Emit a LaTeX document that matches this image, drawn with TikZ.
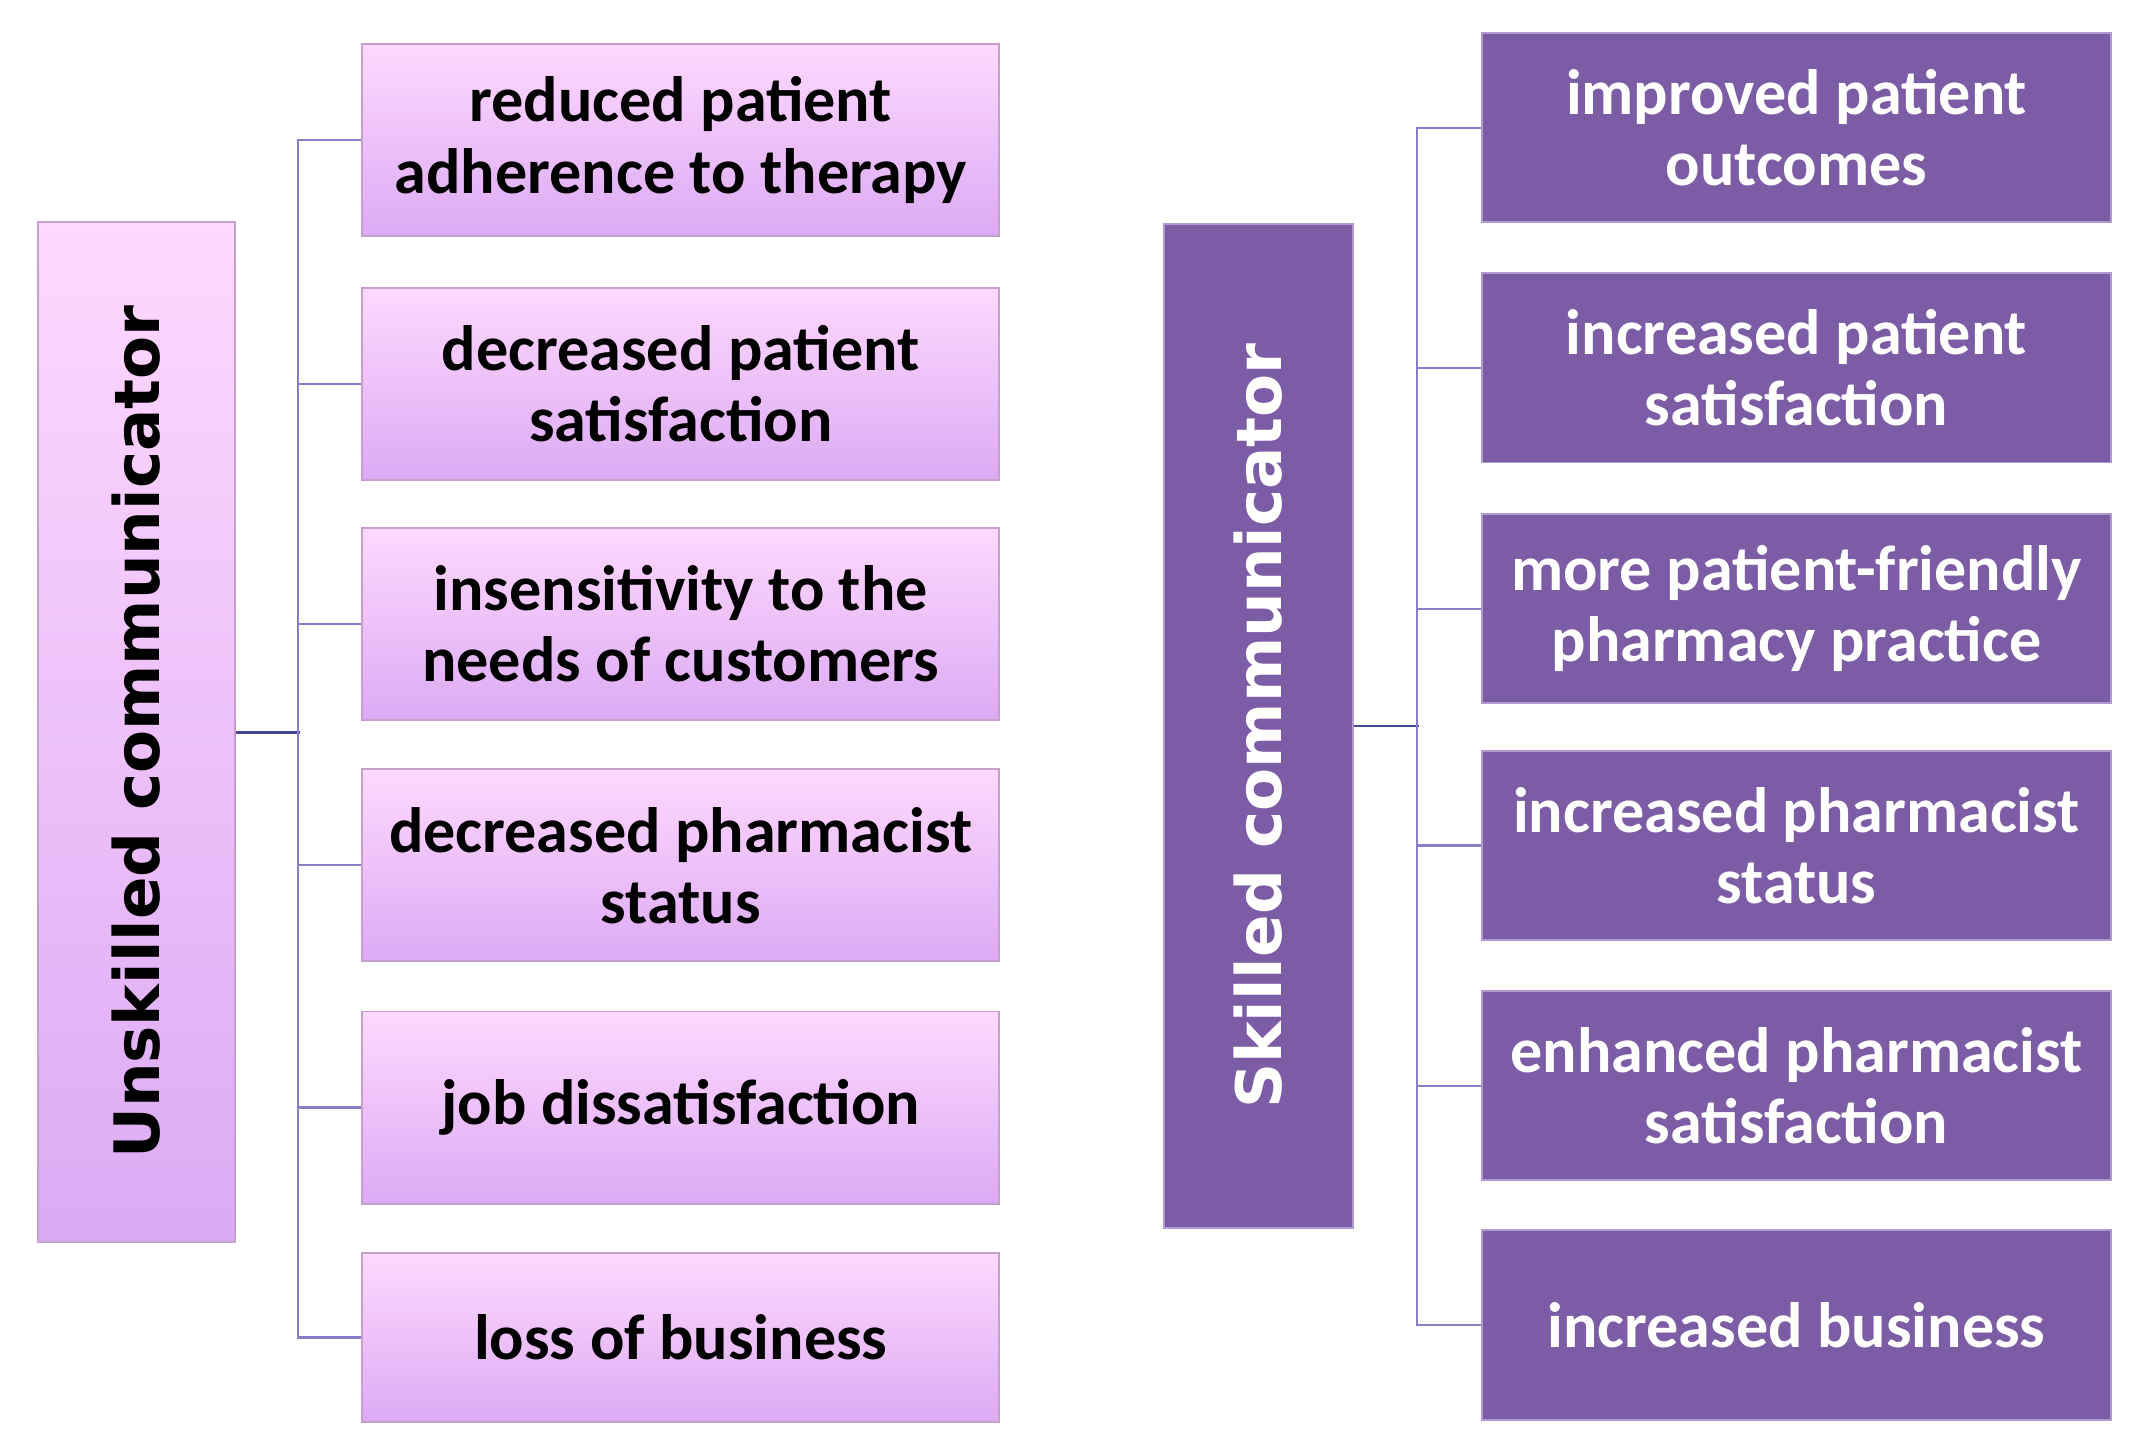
\documentclass[tikz,border=0pt]{standalone}
\usepackage{fontspec}
\setmainfont{Carlito}
\newfontfamily\headfont{DejaVu Sans}
\definecolor{pinktop}{RGB}{255,216,255}
\definecolor{pinkbot}{RGB}{220,170,244}
\definecolor{pinkline}{RGB}{196,160,204}
\definecolor{skillfill}{RGB}{124,92,164}
\definecolor{skillline}{RGB}{175,155,210}
\definecolor{linkdark}{RGB}{70,70,150}
\definecolor{linklight}{RGB}{140,125,200}
\tikzset{
  boxfont/.style={font=\bfseries\fontsize{26.6}{29.5}\selectfont},
  badbox/.style={boxfont, draw=pinkline, line width=0.8pt, top color=pinktop, bottom color=pinkbot,
    minimum width=9.28cm, minimum height=2.8cm, inner xsep=0pt, text width=9cm, align=flush center},
  goodbox/.style={boxfont, draw=skillline, line width=0.8pt, fill=skillfill, text=white,
    minimum width=9.16cm, minimum height=2.76cm, inner xsep=0pt, text width=9cm, align=flush center},
  headfontstyle/.style={font=\headfont\bfseries\fontsize{26}{30}\selectfont},
  link/.style={draw=linklight, line width=0.9pt},
  mainlink/.style={draw=linkdark, line width=1.2pt}
}
\begin{document}
\begin{tikzpicture}[x=0.02cm,y=-0.02cm]
\useasboundingbox (0,0) rectangle (1568,1058);
% unskilled side
\node[badbox, headfontstyle, minimum width=2.86cm, minimum height=14.86cm, text width=] (unskilled) at (99.5,533.5) {\rotatebox{90}{Unskilled communicator}};
\node[badbox] (bad1) at (496,102) {reduced patient\\adherence to therapy};
\node[badbox] (bad2) at (496,279.5) {decreased patient\\satisfaction};
\node[badbox] (bad3) at (496,454.5) {insensitivity to the\\needs of customers};
\node[badbox] (bad4) at (496,630.5) {decreased pharmacist\\status};
\node[badbox] (bad5) at (496,807) {job dissatisfaction};
\node[badbox, minimum height=2.46cm] (bad6) at (496,974.5) {loss of business};
\draw[mainlink] (unskilled.east) -- ++(47,0);
\draw[link] (bad1.west) -- ++(-46,0) |- (bad6.west);
\foreach \i in {2,...,5}
  \draw[link] (bad\i.west) -- ++(-46,0);
% skilled side
\node[goodbox, headfontstyle, minimum width=2.76cm, minimum height=14.64cm, text width=] (skilled) at (917,529) {\rotatebox{90}{Skilled communicator}};
\node[goodbox] (good1) at (1309,93) {improved patient\\outcomes};
\node[goodbox] (good2) at (1309,268) {increased patient\\satisfaction};
\node[goodbox] (good3) at (1309,443.5) {more patient-friendly\\pharmacy practice};
\node[goodbox] (good4) at (1309,616) {increased pharmacist\\status};
\node[goodbox] (good5) at (1309,791) {enhanced pharmacist\\satisfaction};
\node[goodbox] (good6) at (1309,965.5) {increased business};
\draw[mainlink] (skilled.east) -- ++(47,0);
\draw[link] (good1.west) -- ++(-47,0) |- (good6.west);
\foreach \i in {2,...,5}
  \draw[link] (good\i.west) -- ++(-47,0);
\end{tikzpicture}
\end{document}
